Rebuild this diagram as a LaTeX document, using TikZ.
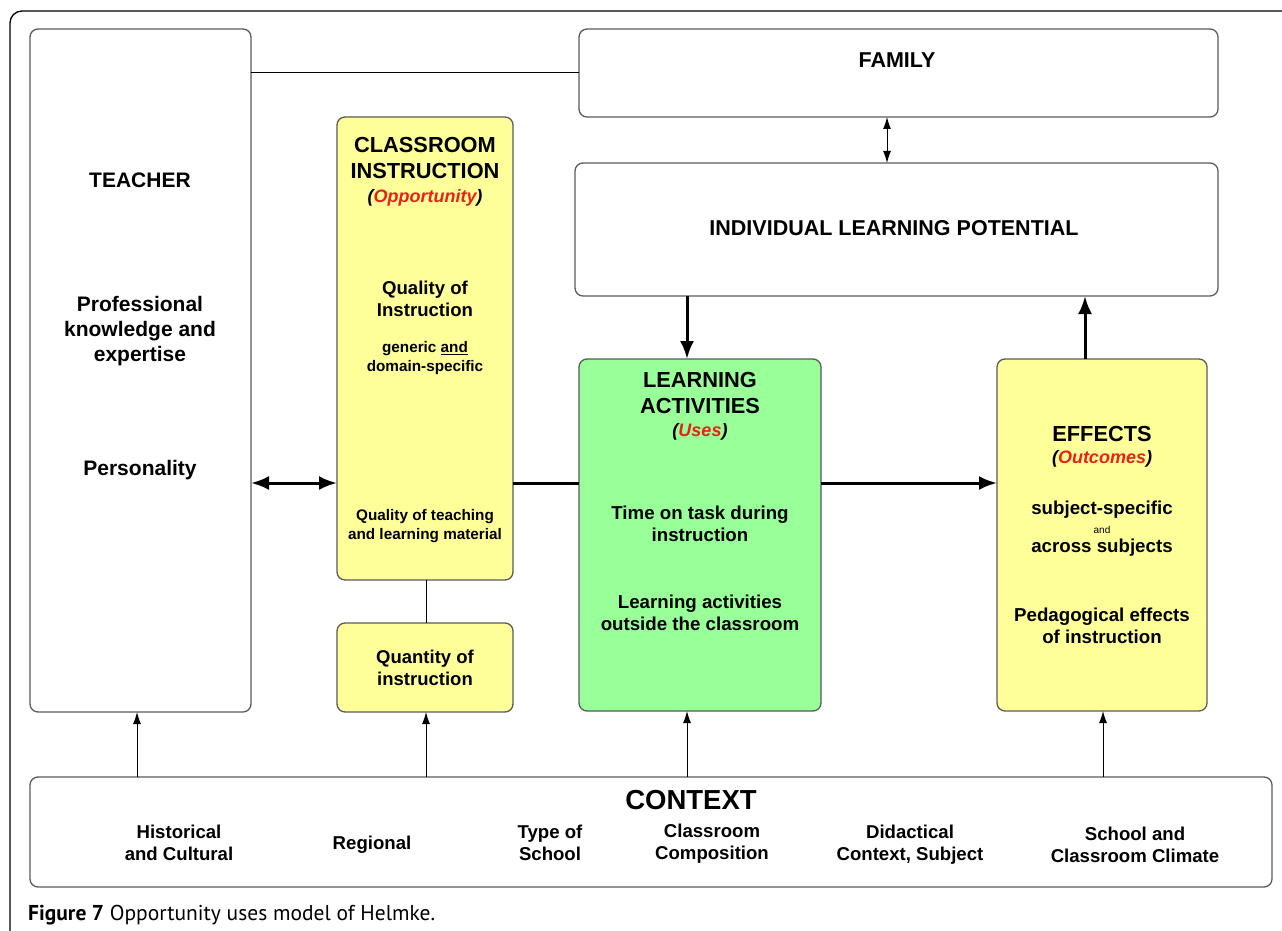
\documentclass[tikz,border=0pt]{standalone}
\usepackage{fontspec}
\setmainfont{Liberation Sans}
\newfontfamily\capfont{PT Sans}
\usetikzlibrary{arrows.meta}
\definecolor{boxline}{HTML}{5A5A5A}
\definecolor{yel}{HTML}{FFFF99}
\definecolor{grn}{HTML}{99FF99}
\definecolor{redtxt}{HTML}{E82218}
\newlength{\myfs}
\newcommand{\fsz}[1]{\setlength{\myfs}{#1pt}\fontsize{\myfs}{1.2\myfs}\selectfont}
\tikzset{
  box/.style={draw=boxline, line width=1.3pt, rounded corners=8pt, outer sep=0pt, inner sep=0pt},
  ybox/.style={box, fill=yel},
  gbox/.style={box, fill=grn},
  txt/.style={align=center, inner sep=0pt, font=\bfseries},
  thick arrow/.style={line width=3pt, -{Latex[length=18pt,width=14pt]}},
  thin arrow/.style={line width=1pt, -{Latex[length=12pt,width=8pt]}},
  ctx/.style={align=center, inner sep=0pt, font=\bfseries\fsz{18.6}},
}
\begin{document}
\begin{tikzpicture}[x=1pt,y=-1pt]
\useasboundingbox (0,0) rectangle (1282,931);
% outer frame
\draw[line width=1.3pt, rounded corners=12pt] (10,935) -- (10,11) -- (1290,11);

% boxes
\node[box, minimum width=221, minimum height=683] (teacher) at (140.5,370.5) {};
\node[box, minimum width=639, minimum height=88] (family) at (898.5,73) {};
\node[box, minimum width=643, minimum height=133] (ilp) at (896.5,229.5) {};
\node[ybox, minimum width=176, minimum height=463] (ci) at (425,348.5) {};
\node[ybox, minimum width=176, minimum height=89] (qi) at (425,667.5) {};
\node[gbox, minimum width=242, minimum height=352] (la) at (700,535) {};
\node[ybox, minimum width=210, minimum height=352] (ef) at (1102,535) {};
\node[box, minimum width=1242, minimum height=110] (ctx) at (651,832) {};

% helper coordinates
\coordinate (my) at (0,483);
\coordinate (fx) at (887,0);
\coordinate (dx) at (687,0);
\coordinate (ux) at (1085,0);
\coordinate (tx) at (137,0);
\coordinate (qx) at (426,0);
\coordinate (lx) at (687,0);
\coordinate (ex) at (1103,0);

% connectors
\draw[line width=1pt] (teacher.east |- family.west) -- (family.west);
\draw[line width=1pt] (ci.south -| qx) -- (qi.north -| qx);
\draw[line width=1pt, {Latex[length=12pt,width=8pt]}-{Latex[length=12pt,width=8pt]}] (family.south -| fx) -- (ilp.north -| fx);
\draw[line width=3pt, {Latex[length=18pt,width=14pt]}-{Latex[length=18pt,width=14pt]}] (teacher.east |- my) -- (ci.west |- my);
\draw[line width=3pt] (ci.east |- my) -- (la.west |- my);
\draw[thick arrow] (la.east |- my) -- (ef.west |- my);
\draw[thick arrow] (ilp.south -| dx) -- (la.north -| dx);
\draw[thick arrow] (ef.north -| ux) -- (ilp.south -| ux);
\draw[thin arrow] (ctx.north -| tx) -- (teacher.south -| tx);
\draw[thin arrow] (ctx.north -| qx) -- (qi.south -| qx);
\draw[thin arrow] (ctx.north -| lx) -- (la.south -| lx);
\draw[thin arrow] (ctx.north -| ex) -- (ef.south -| ex);

% teacher texts
\node[txt, font=\bfseries\fsz{21}] (t1) at (140,180) {TEACHER};
\node[txt, font=\bfseries\fsz{21}] (t2) at (140,331) {Professional\\knowledge and\\expertise};
\node[txt, font=\bfseries\fsz{21}] (t3) at (140,470) {Personality};

% family, ilp
\node[txt, font=\bfseries\fsz{21.5}] (f1) at (897,60) {FAMILY};
\node[txt, font=\bfseries\fsz{21.5}] (i1) at (894,228) {INDIVIDUAL LEARNING POTENTIAL};

% classroom instruction
\node[txt, font=\bfseries\fsz{21.8}] (c1) at (425,158) {CLASSROOM\\INSTRUCTION};
\node[txt, font=\bfseries\itshape\fsz{18}] (c2) at (425,198) {(\textcolor{redtxt}{Opportunity})};
\node[txt, font=\bfseries\fsz{18.6}] (c3) at (425,299) {Quality of\\Instruction};
\node[txt, font=\bfseries\fsz{15.3}] (c4) at (425,358) {generic \underline{and}\\domain-specific};
\node[txt, font=\bfseries\fsz{15.3}] (c5) at (425,526) {Quality of teaching\\and learning material};
\node[txt, font=\bfseries\fsz{18.5}] (q1) at (425,668) {Quantity of\\instruction};

% learning activities
\node[txt, font=\bfseries\fsz{21.8}] (l1) at (700,393) {LEARNING\\ACTIVITIES};
\node[txt, font=\bfseries\itshape\fsz{18}] (l2) at (700,432) {(\textcolor{redtxt}{Uses})};
\node[txt, font=\bfseries\fsz{18.7}] (l3) at (700,524) {Time on task during\\instruction};
\node[txt, font=\bfseries\fsz{18.7}] (l4) at (700,613) {Learning activities\\outside the classroom};

% effects
\node[txt, font=\bfseries\fsz{21.8}] (e1) at (1102,434) {EFFECTS};
\node[txt, font=\bfseries\itshape\fsz{18}] (e2) at (1102,459) {(\textcolor{redtxt}{Outcomes})};
\node[txt, font=\bfseries\fsz{18.7}] (e3) at (1102,510) {subject-specific};
\node[txt, font=\fsz{10}] (e4) at (1102,530) {and};
\node[txt, font=\bfseries\fsz{18.7}] (e5) at (1102,548) {across subjects};
\node[txt, font=\bfseries\fsz{18.7}] (e6) at (1102,626) {Pedagogical effects\\of instruction};

% context
\node[txt, font=\bfseries\fsz{27.5}] (x0) at (691,800) {CONTEXT};
\node[ctx] (x1) at (179,843) {Historical\\and Cultural};
\node[ctx] (x2) at (372,845) {Regional};
\node[ctx] (x3) at (550,843) {Type of\\School};
\node[ctx] (x4) at (712,844) {Classroom\\Composition};
\node[ctx] (x5) at (910,845) {Didactical\\Context, Subject};
\node[ctx] (x6) at (1135,845) {School and\\Classroom Climate};

% caption
\node[anchor=west, inner sep=0pt, font=\capfont\fsz{21.5}] (cap) at (28,915) {\textbf{Figure 7} Opportunity uses model of Helmke.};
\end{tikzpicture}
\end{document}
